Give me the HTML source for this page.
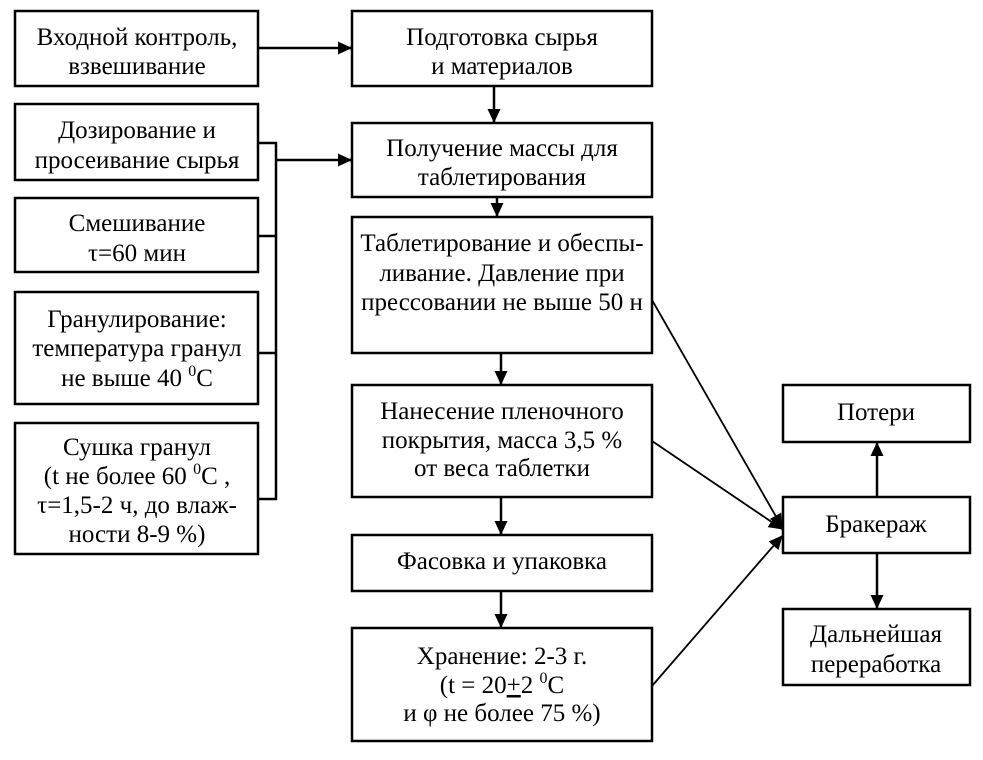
<!DOCTYPE html>
<html><head><meta charset="utf-8"><style>
html,body{margin:0;padding:0;background:#fff;}
svg{display:block;}
text{font-family:"Liberation Serif",serif;font-size:25px;fill:#000;text-anchor:middle;}
</style></head><body>
<svg width="983" height="760" viewBox="0 0 983 760" xmlns="http://www.w3.org/2000/svg">
<defs><marker id="a" markerWidth="14" markerHeight="14" refX="13" refY="6.5" orient="auto" markerUnits="userSpaceOnUse"><path d="M0,0 L14,6.5 L0,13 z" fill="#000"/></marker></defs>
<g fill="none" stroke="#000" stroke-width="2.5">
<rect x="15" y="11" width="243" height="75"/>
<rect x="15" y="104" width="243" height="76"/>
<rect x="15" y="198" width="243" height="74"/>
<rect x="15" y="292" width="243" height="112"/>
<rect x="15" y="423" width="243" height="131"/>
<rect x="352" y="11" width="300" height="75"/>
<rect x="352" y="123" width="300" height="74"/>
<rect x="352" y="217" width="300" height="136"/>
<rect x="352" y="385" width="300" height="112"/>
<rect x="352" y="535" width="300" height="56"/>
<rect x="352" y="628" width="300" height="113"/>
<rect x="783" y="385" width="187" height="57"/>
<rect x="783" y="497" width="187" height="56"/>
<rect x="783" y="609" width="187" height="76"/>
<path d="M258 143 H276 V499 H258 M258 236 H276 M258 353 H276"/>
</g>
<g stroke="#000" stroke-width="2.5" marker-end="url(#a)">
<line x1="258" y1="48" x2="351" y2="48"/>
<line x1="276" y1="160" x2="351" y2="160"/>
<line x1="494" y1="86" x2="494" y2="122"/>
<line x1="497" y1="197" x2="497" y2="216"/>
<line x1="501" y1="353" x2="501" y2="384"/>
<line x1="501" y1="497" x2="501" y2="534"/>
<line x1="501" y1="591" x2="501" y2="627"/>
<line x1="877" y1="497" x2="877" y2="443"/>
<line x1="877" y1="553" x2="877" y2="608"/>
</g>
<g stroke="#000" stroke-width="1.8" marker-end="url(#a)">
<line x1="652" y1="300" x2="782" y2="527"/>
<line x1="652" y1="441" x2="782" y2="529"/>
<line x1="652" y1="686" x2="782" y2="536"/>
</g>
<text x="137" y="45">Входной контроль,</text>
<text x="137" y="74">взвешивание</text>
<text x="137" y="138">Дозирование и</text>
<text x="137" y="168">просеивание сырья</text>
<text x="137" y="231">Смешивание</text>
<text x="137" y="261">τ=60 мин</text>
<text x="137" y="327">Гранулирование:</text>
<text x="137" y="356">температура гранул</text>
<text x="137" y="386">не выше 40 <tspan dy="-10" font-size="16">0</tspan><tspan dy="10">С</tspan></text>
<text x="137" y="455">Сушка гранул</text>
<text x="137" y="484">(t не более 60 <tspan dy="-10" font-size="16">0</tspan><tspan dy="10">С ,</tspan></text>
<text x="137" y="513">τ=1,5-2 ч, до влаж-</text>
<text x="137" y="542">ности 8-9 %)</text>
<text x="502" y="45">Подготовка сырья</text>
<text x="502" y="74">и материалов</text>
<text x="502" y="156">Получение массы для</text>
<text x="502" y="185">таблетирования</text>
<text x="502" y="251">Таблетирование и обеспы-</text>
<text x="502" y="281">ливание. Давление при</text>
<text x="502" y="310">прессовании не выше 50 н</text>
<text x="502" y="419">Нанесение пленочного</text>
<text x="502" y="448">покрытия, масса 3,5 %</text>
<text x="502" y="476">от веса таблетки</text>
<text x="502" y="569">Фасовка и упаковка</text>
<text x="502" y="664">Хранение: 2-3 г.</text>
<text x="502" y="693">(t = 20<tspan text-decoration="underline">+</tspan>2 <tspan dy="-10" font-size="16">0</tspan><tspan dy="10">С</tspan></text>
<text x="502" y="721">и φ не более 75 %)</text>
<text x="876" y="420">Потери</text>
<text x="876" y="532">Бракераж</text>
<text x="876" y="642">Дальнейшая</text>
<text x="876" y="672">переработка</text>
</svg>
</body></html>
